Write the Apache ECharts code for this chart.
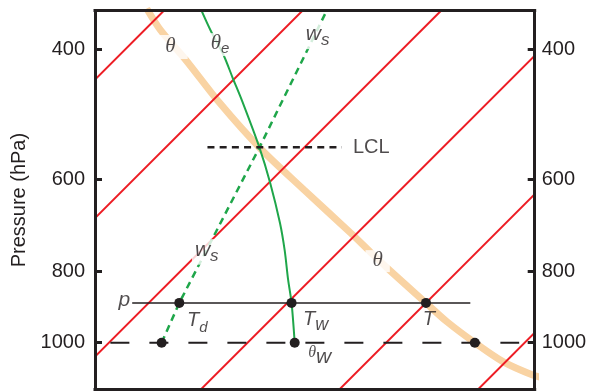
<!DOCTYPE html>
<html>
<head>
<meta charset="UTF-8">
<title>Skew-T parcel diagram</title>
<script src="https://cdn.jsdelivr.net/npm/echarts@6/dist/echarts.min.js"></script>
<style>html,body{margin:0;padding:0;background:#fff}</style>
</head>
<body>
<div id="main" style="width:590px;height:391px"></div>
<script>
// isotherms (degC), drawn as straight skewed lines
var isotherms = [-20, -10, 0, 10, 20, 30];
var isoP = [330, 1200];

// dry adiabat (theta) through T
var thetaP = [352, 377, 413, 473, 545, 621, 711, 753, 797, 883, 937, 1000, 1061, 1106, 1120];
var thetaT = [-21.4, -18.8, -14.9, -9.3, -3.1, 3.1, 9.6, 12.3, 15.0, 20.0, 22.9, 26.4, 29.8, 32.9, 34.3];

// moist adiabat (theta_e) through Tw
var thetaeP = [350, 377, 407, 437, 469, 544, 607, 688, 749, 822, 883, 1000];
var thetaeT = [-17.7, -15.2, -12.5, -10.2, -7.9, -3.2, 0.1, 3.7, 6.0, 8.4, 10.3, 13.4];

// saturation mixing ratio line (ws) through Td
var wsP = [1000, 883, 545, 350];
var wsT = [3.8, 2.2, -3.2, -8.4];

// reference levels
var pLevel = 883, pLineT = [-1.2, 23.2];
var baseP = 1000, baseT = [0.1, 29.6];
var lclP = 543, lclT = [-7.0, 2.7];

// marked points: Td, Tw, T at p, and their values at 1000 hPa
var dotT = [2.2, 10.3, 20.0, 3.8, 13.4, 26.4];
var dotP = [883, 883, 883, 1000, 1000, 1000];

var pTicks = [400, 600, 800, 1000];

var SKEW = 23.1;
var X_MIN = -1.01, X_MAX = 30.72;
var P_TOP = 354.4, P_BOT = 1157.4;
var red = '#ED1C24', green = '#1FA64A', tan = '#F9D3A3', ink = '#231F20';

function sx(t, p) { return t + SKEW * Math.log(1000 / p); }
function pts(ts, ps) { return ts.map(function (t, i) { return [sx(t, ps[i]), ps[i]]; }); }
function flat(ts, p) { return ts.map(function (t) { return [sx(t, p), p]; }); }

function tok(family, size, lh, va) {
    return {fontFamily: family, fontStyle: 'italic', fontSize: size, color: ink, lineHeight: lh, verticalAlign: va};
}
var SANS = 'Liberation Sans', SERIF = 'Liberation Serif';
var rich = {
    th: tok(SERIF, 21, 22, 'top'),
    it: tok(SANS, 20, 22, 'top'),
    p: tok(SANS, 21, 22, 'top'),
    // subscript pairs: main glyph top-aligned, small glyph bottom-aligned in a taller line
    thE: tok(SERIF, 21, 23, 'top'), subE: tok(SANS, 15, 23, 'bottom'),
    wS: tok(SANS, 21, 25.5, 'top'), subS: tok(SANS, 17, 25.5, 'bottom'),
    tD: tok(SANS, 20, 25.5, 'top'), subD: tok(SANS, 15, 25.5, 'bottom'),
    tW: tok(SANS, 20, 25, 'top'), subW: tok(SANS, 18, 25, 'bottom'),
    thW: tok(SERIF, 16, 22, 'top'), bigW: tok(SANS, 21, 22, 'bottom'),
    rm: {fontFamily: SANS, fontSize: 20, color: ink}
};

// text labels: anchor (T, p), pixel offset, white box where the label cuts a curve
var notes = [
    {t: -16.9, p: 397, text: '{th|θ}', pad: [1, 12]},
    {t: -13.5, p: 394, text: '{thE|θ}{subE|e}', pad: [0, 3]},
    {t: -7.06, p: 384, text: '{wS|w}{subS|s}', pad: [0, 3]},
    {t: 0.5, p: 753, text: '{wS|w}{subS|s}', pad: [0, 3]},
    {t: 13.5, p: 775, text: '{th|θ}', pad: [0, 7]},
    {t: 3.5, p: lclP, text: '{rm|LCL}', align: 'left'},
    {t: pLineT[0], p: pLevel, text: '{p|p}', align: 'right', off: [-2, -2]},
    {t: dotT[0], p: dotP[0], text: '{tD|T}{subD|d}', off: [18, 20]},
    {t: dotT[1], p: dotP[1], text: '{tW|T}{subW|w}', off: [24, 19]},
    {t: dotT[2], p: dotP[2], text: '{it|T}', off: [3, 18]},
    {t: dotT[4], p: dotP[4], text: '{thW|θ}{bigW|w}', off: [25, 13.5]}
];

var series = [];
series.push({type: 'line', data: pts(thetaT, thetaP), smooth: 0.3, symbol: 'none',
    lineStyle: {color: tan, width: 7}, z: 1});
isotherms.forEach(function (t) {
    series.push({type: 'line', data: isoP.map(function (p) { return [sx(t, p), p]; }), symbol: 'none',
        lineStyle: {color: red, width: 2}, z: 2});
});
series.push({type: 'line', data: pts(wsT, wsP), symbol: 'none',
    lineStyle: {color: green, width: 2.5, type: [7, 5]}, z: 3});
series.push({type: 'line', data: pts(thetaeT, thetaeP), smooth: 0.3, symbol: 'none',
    lineStyle: {color: green, width: 2}, z: 3});
series.push({type: 'line', data: flat(pLineT, pLevel), symbol: 'none',
    lineStyle: {color: ink, width: 1.5}, z: 4});
series.push({type: 'line', data: flat(baseT, baseP), symbol: 'none',
    lineStyle: {color: ink, width: 2, type: [19, 20]}, z: 4});
series.push({type: 'line', data: flat(lclT, lclP), symbol: 'none',
    lineStyle: {color: ink, width: 2.5, type: [7, 5.2]}, z: 4});
series.push({type: 'scatter', data: pts(notes.map(function (n) { return n.t; }), notes.map(function (n) { return n.p; })).map(function (v, i) {
        var n = notes[i];
        return {value: v, label: {
            show: true, position: 'inside', formatter: n.text, rich: rich,
            align: n.align || 'center', offset: n.off || [0, 0],
            backgroundColor: n.pad ? '#fff' : 'transparent', padding: n.pad || 0
        }};
    }), symbolSize: 0, silent: true, z: 8});
series.push({type: 'scatter', data: pts(dotT, dotP), symbolSize: 10,
    itemStyle: {color: ink, opacity: 1}, silent: true, z: 9});

function yAx(pos, margin, named) {
    return {
        type: 'log', inverse: true, min: P_TOP, max: P_BOT, position: pos, z: 10,
        axisLine: {show: true, onZero: false, lineStyle: {color: ink, width: 3, cap: 'square'}},
        axisTick: {show: true, inside: true, length: 7, customValues: pTicks, lineStyle: {color: ink, width: 3}},
        axisLabel: {customValues: pTicks, margin: margin, fontSize: 20, color: ink, fontFamily: SANS,
            formatter: function (v) { return String(Math.round(v)); }},
        splitLine: {show: false},
        name: named ? 'Pressure (hPa)' : '', nameLocation: 'middle', nameGap: 56,
        nameTextStyle: {fontSize: 20, color: ink, fontFamily: SANS}
    };
}
function xAx(pos) {
    return {
        type: 'value', min: X_MIN, max: X_MAX, position: pos, z: 10,
        axisLine: {show: true, onZero: false, lineStyle: {color: ink, width: 3, cap: 'square'}},
        axisTick: {show: false}, axisLabel: {show: false}, splitLine: {show: false}
    };
}

var chart = echarts.init(document.getElementById('main'));
chart.setOption({
    animation: false,
    grid: {left: 95, right: 55.3, top: 10.7, bottom: 1.5},
    xAxis: [xAx('bottom'), xAx('top')],
    yAxis: [yAx('left', 10, true), yAx('right', 7, false)],
    series: series
});
</script>
</body>
</html>
